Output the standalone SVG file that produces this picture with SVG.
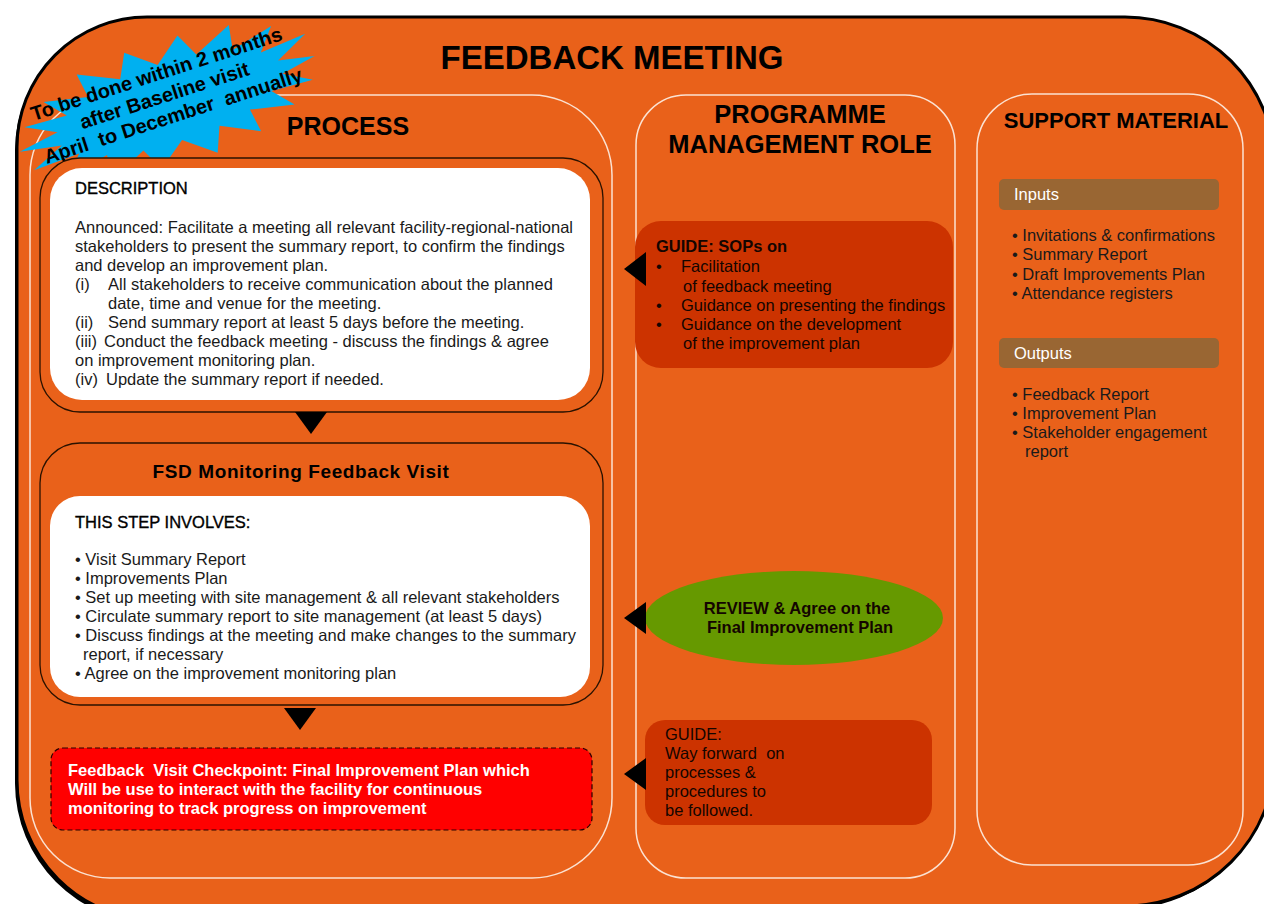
<svg xmlns="http://www.w3.org/2000/svg" width="1264" height="904" viewBox="0 0 1264 904">
<style>
text{font-family:"Liberation Sans",Arial,sans-serif;fill:#1a1a1a}
.h{font-weight:bold;fill:#000}
.b15{font-size:16.5px}
.hd{fill:#000;stroke:#000;stroke-width:0.35}
.col{fill:none;stroke:#FBE2D2;stroke-width:1.5}
.outer{fill:#E9611A;stroke:#2a1200;stroke-width:1.3}
.white{fill:#fff}
.guide{fill:#CC3300}
.bar{fill:#996633}
.arr{fill:#000}
.dk{fill:#140500}
</style>
<rect width="1264" height="904" fill="#fff"/>
<g id="background">
<path d="M147 17H1125A150 150 0 0 1 1275 167V756A150 150 0 0 1 1125 906L157 920A140 140 0 0 1 17 780V147A130 130 0 0 1 147 17Z" fill="#000" transform="translate(-2,3)"/>
<path d="M147 17H1125A150 150 0 0 1 1275 167V756A150 150 0 0 1 1125 906L157 920A140 140 0 0 1 17 780V147A130 130 0 0 1 147 17Z" fill="#E9611A" stroke="#000" stroke-width="3"/>
<text x="612" y="69" class="h" font-size="33" text-anchor="middle">FEEDBACK MEETING</text>
</g>
<g id="col-process">
<rect x="30" y="95" width="582" height="783" rx="80" class="col"/>
<text x="348" y="135" class="h" font-size="25" text-anchor="middle">PROCESS</text>
</g>
<g id="col-pm">
<rect x="636" y="95" width="319" height="783" rx="50" class="col"/>
<text x="800" y="123" class="h" font-size="25.5" text-anchor="middle">PROGRAMME</text>
<text x="800" y="153" class="h" font-size="25.5" text-anchor="middle">MANAGEMENT ROLE</text>
</g>
<g id="col-support">
<rect x="977" y="94" width="266" height="771" rx="55" class="col"/>
<text x="1116" y="128" class="h" font-size="22" text-anchor="middle">SUPPORT MATERIAL</text>
</g>
<g id="starburst" transform="translate(170,103) rotate(-18)">
<polygon fill="#00B0F0" points="152,0 116,7 143,22 100,20 118,40 74,31 78,55 40,37 30,62 0,39 -28,60 -40,37 -78,55 -76,30 -120,40 -102,20 -150,22 -116,7 -158,0 -116,-7 -146,-22 -102,-20 -120,-40 -76,-31 -80,-56 -40,-38 -28,-62 0,-40 28,-62 40,-38 80,-56 76,-31 120,-42 102,-20 150,-24 116,-7"/>
<text x="-4" y="-25" class="h" font-size="20" text-anchor="middle">To be done within 2 months</text>
<text x="-3" y="-2" class="h" font-size="20" text-anchor="middle">after Baseline visit</text>
<text x="-1" y="20" class="h" font-size="20" text-anchor="middle" xml:space="preserve">April  to December  annually</text>
</g>
<g id="description">
<rect x="40" y="158" width="563" height="254" rx="40" class="outer"/>
<rect x="50" y="168" width="540" height="232" rx="32" class="white"/>
<text x="75" y="194" class="b15 hd">DESCRIPTION</text>
<g class="b15">
<text x="75" y="233">Announced: Facilitate a meeting all relevant facility-regional-national</text>
<text x="75" y="252">stakeholders to present the summary report, to confirm the findings</text>
<text x="75" y="271">and develop an improvement plan.</text>
<text x="75" y="290">(i)</text><text x="108" y="290">All stakeholders to receive communication about the planned</text>
<text x="108" y="309">date, time and venue for the meeting.</text>
<text x="75" y="328">(ii)</text><text x="108" y="328">Send summary report at least 5 days before the meeting.</text>
<text x="75" y="347">(iii)</text><text x="104" y="347">Conduct the feedback meeting - discuss the findings &amp; agree</text>
<text x="75" y="366">on improvement monitoring plan.</text>
<text x="75" y="385">(iv)</text><text x="106" y="385">Update the summary report if needed.</text>
</g>
</g>
<g id="fsd-visit">
<rect x="40" y="443" width="563" height="262" rx="40" class="outer"/>
<text x="301" y="478" class="h" font-size="19" letter-spacing="0.6" text-anchor="middle">FSD Monitoring Feedback Visit</text>
<rect x="50" y="496" width="540" height="201" rx="30" class="white"/>
<text x="75" y="528" class="b15 hd">THIS STEP INVOLVES:</text>
<g class="b15">
<text x="75" y="565">• Visit Summary Report</text>
<text x="75" y="584">• Improvements Plan</text>
<text x="75" y="603">• Set up meeting with site management &amp; all relevant stakeholders</text>
<text x="75" y="622">• Circulate summary report to site management (at least 5 days)</text>
<text x="75" y="641">• Discuss findings at the meeting and make changes to the summary</text>
<text x="83" y="660">report, if necessary</text>
<text x="75" y="679">• Agree on the improvement monitoring plan</text>
</g>
</g>
<g id="checkpoint">
<rect x="51" y="748" width="541" height="82" rx="12" fill="#FF0000" stroke="#2a0000" stroke-width="1.2" stroke-dasharray="5,3"/>
<g class="b15" font-weight="bold">
<text x="68" y="776" style="fill:#fff" xml:space="preserve">Feedback  Visit Checkpoint: Final Improvement Plan which</text>
<text x="68" y="795" style="fill:#fff">Will be use to interact with the facility for continuous</text>
<text x="68" y="814" style="fill:#fff">monitoring to track progress on improvement</text>
</g>
</g>
<g id="guide-sops">
<rect x="635" y="221" width="318" height="147" rx="26" class="guide"/>
<g class="b15">
<text x="656" y="252" class="dk" font-weight="bold">GUIDE: SOPs on</text>
<text x="656" y="272" class="dk">•</text><text x="681" y="272" class="dk">Facilitation</text>
<text x="683" y="292" class="dk">of feedback meeting</text>
<text x="656" y="311" class="dk">•</text><text x="681" y="311" class="dk">Guidance on presenting the findings</text>
<text x="656" y="330" class="dk">•</text><text x="681" y="330" class="dk">Guidance on the development</text>
<text x="683" y="349" class="dk">of the improvement plan</text>
</g>
</g>
<g id="review">
<ellipse cx="794" cy="618" rx="149" ry="47" fill="#669900"/>
<text x="797" y="614" class="dk b15" font-weight="bold" text-anchor="middle">REVIEW &amp; Agree on the</text>
<text x="800" y="633" class="dk b15" font-weight="bold" text-anchor="middle">Final Improvement Plan</text>
</g>
<g id="guide-way">
<rect x="645" y="720" width="287" height="105" rx="20" class="guide"/>
<g class="b15">
<text x="665" y="740" class="dk">GUIDE:</text>
<text x="665" y="759" class="dk" xml:space="preserve">Way forward  on</text>
<text x="665" y="778" class="dk">processes &amp;</text>
<text x="665" y="797" class="dk">procedures to</text>
<text x="665" y="816" class="dk">be followed.</text>
</g>
</g>
<g id="inputs">
<rect x="999" y="179" width="220" height="31" rx="5" class="bar"/>
<text x="1014" y="200" class="b15" style="fill:#fff">Inputs</text>
<g class="b15">
<text x="1012" y="241">• Invitations &amp; confirmations</text>
<text x="1012" y="260">• Summary Report</text>
<text x="1012" y="280">• Draft Improvements Plan</text>
<text x="1012" y="299">• Attendance registers</text>
</g>
</g>
<g id="outputs">
<rect x="999" y="338" width="220" height="30" rx="5" class="bar"/>
<text x="1014" y="359" class="b15" style="fill:#fff">Outputs</text>
<g class="b15">
<text x="1012" y="400">• Feedback Report</text>
<text x="1012" y="419">• Improvement Plan</text>
<text x="1012" y="438">• Stakeholder engagement</text>
<text x="1025" y="457">report</text>
</g>
</g>
<g id="connectors">
<polygon class="arr" points="295,412 327,412 311,434"/>
<polygon class="arr" points="284,708 316,708 300,730"/>
<polygon class="arr" points="646,252 646,286 624,269"/>
<polygon class="arr" points="646,602 646,634 624,618"/>
<polygon class="arr" points="646,758 646,790 624,774"/>
</g>
</svg>
